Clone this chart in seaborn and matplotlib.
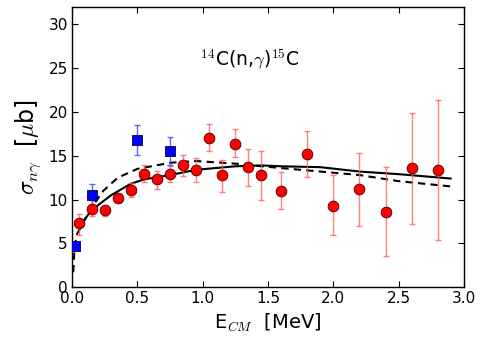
import matplotlib
matplotlib.use('Agg')
import matplotlib.pyplot as plt
import numpy as np
import pandas as pd
import seaborn as sns

# measured cross sections (red circles)
e_red = [0.05, 0.15, 0.25, 0.35, 0.45, 0.55, 0.65, 0.75, 0.85, 0.95, 1.05,
         1.15, 1.25, 1.35, 1.45, 1.6, 1.8, 2.0, 2.2, 2.4, 2.6, 2.8]
s_red = [7.3, 8.9, 8.8, 10.2, 11.1, 12.9, 12.3, 12.9, 13.9, 13.4, 17.0,
         12.8, 16.3, 13.7, 12.8, 11.0, 15.2, 9.3, 11.2, 8.6, 13.6, 13.4]
hi_red = [8.4, 9.9, 9.3, 10.6, 11.85, 13.9, 13.3, 13.8, 15.1, 14.8, 18.6,
          14.5, 18.1, 15.8, 15.6, 13.2, 17.8, 12.8, 15.3, 13.7, 19.9, 21.4]
lo_red = [6.0, 8.1, 8.1, 9.7, 10.3, 12.0, 11.2, 12.0, 12.7, 12.0, 15.5,
          10.9, 14.9, 11.5, 10.0, 8.9, 12.6, 5.9, 7.0, 3.5, 7.2, 5.4]

# blue squares
e_blue = [0.023, 0.15, 0.5, 0.75]
s_blue = [4.7, 10.5, 16.8, 15.6]
hi_blue = [4.9, 11.8, 18.5, 17.2]
lo_blue = [4.5, 9.4, 15.1, 13.9]

# model curves
e_solid = [0.07, 0.15, 0.3, 0.45, 0.55, 0.75, 0.95, 1.25, 1.45, 1.6, 1.9, 2.2, 2.5, 2.9]
s_solid = [7.2, 8.8, 10.5, 11.8, 12.3, 12.8, 13.4, 13.8, 13.9, 13.8, 13.7, 13.2, 12.9, 12.4]
e_dash = [0.01, 0.02, 0.04, 0.08, 0.15, 0.24, 0.35, 0.5, 0.75, 0.95, 1.25, 1.45, 1.9, 2.2, 2.5, 2.9]
s_dash = [1.7, 4.6, 6.1, 7.2, 9.1, 11.0, 12.5, 13.5, 14.2, 14.4, 14.1, 13.8, 13.2, 12.8, 12.1, 11.5]

sns.set_style("ticks", {'axes.edgecolor': 'black', 'text.color': 'black',
                        'axes.labelcolor': 'black', 'xtick.color': 'black',
                        'ytick.color': 'black'})
plt.rcParams['font.family'] = ['DejaVu Sans']
plt.rcParams['mathtext.fontset'] = 'cm'

fig = plt.figure(figsize=(4.91, 3.48), dpi=100)
ax = fig.add_axes([0.1466, 0.175, 0.7984, 0.805])

sns.lineplot(x=e_solid, y=s_solid, color='black', lw=1.5, ax=ax)
sns.lineplot(x=e_dash, y=s_dash, color='black', lw=1.5, linestyle=(0, (3.5, 2.5)), ax=ax)

red = pd.DataFrame({'E': e_red, 's': s_red, 'hi': hi_red, 'lo': lo_red})
blue = pd.DataFrame({'E': e_blue, 's': s_blue, 'hi': hi_blue, 'lo': lo_blue})

ax.errorbar(red['E'], red['s'], yerr=[red['s'] - red['lo'], red['hi'] - red['s']],
            fmt='none', ecolor='#ff6060', elinewidth=1, capsize=2, alpha=0.8)
ax.errorbar(blue['E'], blue['s'], yerr=[blue['s'] - blue['lo'], blue['hi'] - blue['s']],
            fmt='none', ecolor='#4040ff', elinewidth=1, capsize=2, alpha=0.8)
sns.scatterplot(data=red, x='E', y='s', color='red', edgecolor='#400000',
                linewidth=0.6, s=60, marker='o', ax=ax, zorder=5)
sns.scatterplot(data=blue, x='E', y='s', color='blue', edgecolor='#000040',
                linewidth=0.6, s=60, marker='s', ax=ax, zorder=5)

ax.text(1.36, 26, r'$^{14}$C(n,$\gamma$)$^{15}$C', fontsize=13.5,
        ha='center', va='center')

ax.set_xlim(0, 3.0)
ax.set_ylim(0, 32)
ax.set_xticks(np.arange(0, 3.01, 0.5))
ax.set_yticks(np.arange(0, 31, 5))
ax.tick_params(direction='in', top=True, right=True, labelsize=11, length=4, pad=3)
ax.set_xlabel(r'E$_{CM}$  [MeV]', fontsize=14)
ax.set_ylabel(r'$\sigma_{n\gamma}$  [$\mu$b]', fontsize=17)
for sp in ax.spines.values():
    sp.set_linewidth(1.0)

fig.savefig('out.png', dpi=100)
